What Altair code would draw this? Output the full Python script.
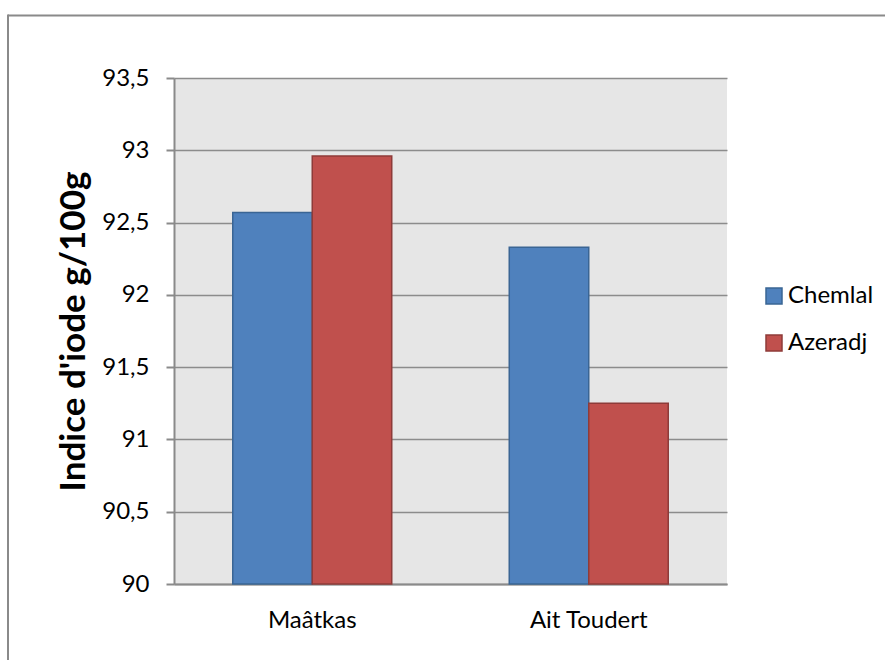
import altair as alt
import pandas as pd

categories = ["Maâtkas", "Ait Toudert"]
series = ["Chemlal", "Azeradj"]
chemlal = [92.57, 92.33]
azeradj = [92.96, 91.25]
y_ticks = [90, 90.5, 91, 91.5, 92, 92.5, 93, 93.5]
colors = ["#4F81BD", "#C0504D"]
edge_colors = ["#3A6594", "#8E3B39"]

rows = []
for i, c in enumerate(categories):
    rows.append({"site": c, "series": series[0], "value": chemlal[i]})
    rows.append({"site": c, "series": series[1], "value": azeradj[i]})
df = pd.DataFrame(rows)

FONT = "Lato"
GRAY = "#8a8a8a"

bars = alt.Chart(df).mark_bar(strokeWidth=1.5).encode(
    x=alt.X("site:N", sort=categories,
            scale=alt.Scale(paddingInner=0.425, paddingOuter=0.2125),
            axis=alt.Axis(title=None, labelAngle=0, labelFont=FONT, labelFontSize=24,
                          labelColor="#000000", labelPadding=24, ticks=False,
                          domainColor=GRAY, domainWidth=2)),
    xOffset=alt.XOffset("series:N", sort=series,
                        scale=alt.Scale(paddingInner=0, paddingOuter=0)),
    y=alt.Y("value:Q",
            scale=alt.Scale(domain=[90, 93.5], zero=False, nice=False),
            axis=alt.Axis(values=y_ticks,
                          labelExpr="replace(toString(datum.value), '.', ',')",
                          labelFont=FONT, labelFontSize=24, labelColor="#000000",
                          labelPadding=17, tickSize=8, tickColor=GRAY, tickWidth=2,
                          domainColor=GRAY, domainWidth=2,
                          grid=True, gridColor="#8c8c8c", gridWidth=1.5,
                          title="Indice d'iode g/100g", titleFont=FONT,
                          titleFontSize=35, titleFontWeight="bold", titleColor="#000000",
                          titleAngle=-90, titleX=-90, titleY=253,
                          titleAlign="center", titleBaseline="alphabetic")),
    y2=alt.datum(90),
    fill=alt.Fill("series:N", sort=series,
                  scale=alt.Scale(domain=series, range=colors),
                  legend=alt.Legend(title=None, orient="none", legendX=588, legendY=206,
                                    symbolType="square", symbolSize=256,
                                    symbolStrokeWidth=1.5,
                                    labelFont=FONT, labelFontSize=24,
                                    labelColor="#000000", labelOffset=2,
                                    rowPadding=23)),
    stroke=alt.Stroke("series:N", sort=series,
                      scale=alt.Scale(domain=series, range=edge_colors)),
)

frame_df = pd.DataFrame({"k": [0]})
top_rule = alt.Chart(frame_df).mark_rule(color=GRAY, strokeWidth=2).encode(
    x=alt.value(-166), x2=alt.value(711), y=alt.value(-62.5))
left_rule = alt.Chart(frame_df).mark_rule(color=GRAY, strokeWidth=2).encode(
    x=alt.value(-166), y=alt.value(-63.5), y2=alt.value(600))

chart = alt.layer(bars, top_rule, left_rule).properties(
    width=553, height=506,
    autosize=alt.AutoSizeParams(type="none"),
    padding={"left": 174, "top": 78, "right": 158, "bottom": 76},
    background="white",
).configure_view(fill="#E6E6E6", strokeWidth=0)

chart.save("out.html", embed_options={"renderer": "svg", "actions": False})
